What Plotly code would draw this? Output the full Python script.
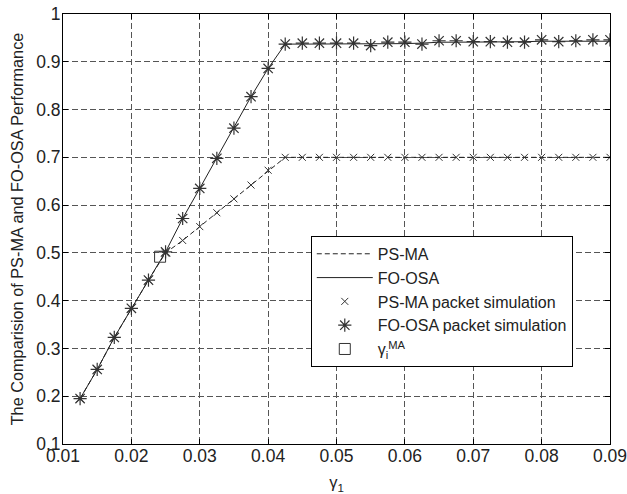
import plotly.graph_objects as go

gamma1 = [0.0125, 0.015, 0.0175, 0.02, 0.0225, 0.025, 0.0275, 0.03, 0.0325, 0.035,
          0.0375, 0.04, 0.0425, 0.045, 0.0475, 0.05, 0.0525, 0.055, 0.0575, 0.06,
          0.0625, 0.065, 0.0675, 0.07, 0.0725, 0.075, 0.0775, 0.08, 0.0825, 0.085,
          0.0875, 0.09]

ps_ma = [0.195, 0.256, 0.323, 0.384, 0.443, 0.500, 0.526, 0.555, 0.584, 0.613,
         0.642, 0.673, 0.700, 0.700, 0.700, 0.700, 0.700, 0.700, 0.700, 0.700,
         0.700, 0.700, 0.700, 0.700, 0.700, 0.700, 0.700, 0.700, 0.700, 0.700,
         0.700, 0.700]

fo_osa = [0.195, 0.256, 0.323, 0.384, 0.443, 0.502, 0.572, 0.635, 0.698, 0.761,
          0.827, 0.886, 0.937, 0.937, 0.937, 0.937, 0.937, 0.937, 0.938, 0.938,
          0.939, 0.941, 0.941, 0.941, 0.941, 0.941, 0.942, 0.943, 0.943, 0.943,
          0.943, 0.943]

ps_ma_sim = [0.195, 0.256, 0.323, 0.384, 0.443, 0.500, 0.526, 0.555, 0.584, 0.613,
             0.642, 0.673, 0.700, 0.700, 0.700, 0.700, 0.700, 0.700, 0.700, 0.700,
             0.700, 0.700, 0.700, 0.700, 0.700, 0.700, 0.700, 0.700, 0.700, 0.700,
             0.700, 0.700]

fo_osa_sim = [0.195, 0.256, 0.323, 0.384, 0.443, 0.502, 0.572, 0.635, 0.698, 0.761,
              0.827, 0.886, 0.937, 0.939, 0.939, 0.939, 0.939, 0.934, 0.941, 0.941,
              0.937, 0.944, 0.944, 0.942, 0.942, 0.941, 0.941, 0.946, 0.942, 0.944,
              0.946, 0.946]

gamma_i_x = [0.0242]
gamma_i_y = [0.492]

x_ticks = [0.01, 0.02, 0.03, 0.04, 0.05, 0.06, 0.07, 0.08, 0.09]
y_ticks = [0.1, 0.2, 0.3, 0.4, 0.5, 0.6, 0.7, 0.8, 0.9, 1]

FONT = "Liberation Sans, Arial, sans-serif"
MK = "#333333"

fig = go.Figure()
fig.add_trace(go.Scatter(x=gamma1, y=ps_ma, mode="lines", name="PS-MA",
                         line=dict(color="#222222", width=1, dash="5px,3px")))
fig.add_trace(go.Scatter(x=gamma1, y=fo_osa, mode="lines", name="FO-OSA",
                         line=dict(color="#222222", width=1)))
fig.add_trace(go.Scatter(x=gamma1, y=ps_ma_sim, mode="markers", name="PS-MA packet simulation",
                         marker=dict(symbol="x-thin-open", size=7, color=MK,
                                     line=dict(color=MK, width=1))))
fig.add_trace(go.Scatter(x=gamma1, y=fo_osa_sim, mode="markers", name="FO-OSA packet simulation",
                         marker=dict(symbol="asterisk-open", size=11, color=MK,
                                     line=dict(color=MK, width=1.2))))
fig.add_trace(go.Scatter(x=gamma_i_x, y=gamma_i_y, mode="markers",
                         name="γ<sub>i</sub><sup>MA</sup>",
                         marker=dict(symbol="square-open", size=11, color=MK,
                                     line=dict(color=MK, width=1))))

axis_common = dict(
    showline=True, linecolor="black", linewidth=1, mirror="allticks",
    ticks="inside", ticklen=5, tickcolor="black",
    showgrid=True, gridcolor="#555555", gridwidth=1, griddash="6px,3px",
    zeroline=False, tickfont=dict(family=FONT, size=17.5, color="#222222"),
    ticklabeloverflow="allow", automargin=False,
)

fig.update_xaxes(range=[0.01, 0.09], tickvals=x_ticks,
                 ticktext=[f"{v:g}" for v in x_ticks],
                 ticklabelstandoff=-4,
                 title=dict(text="γ<sub>1</sub>", font=dict(family=FONT, size=16.5, color="#222222"),
                            standoff=11),
                 **axis_common)
fig.update_yaxes(range=[0.1, 1.0], tickvals=y_ticks,
                 ticktext=[f"{v:g}" for v in y_ticks],
                 ticklabelstandoff=-2,
                 title=dict(text="The Comparision of PS-MA and FO-OSA Performance",
                            font=dict(family=FONT, size=16.3, color="#222222"), standoff=8),
                 **axis_common)

fig.update_layout(
    width=627, height=494,
    margin=dict(l=63, r=17, t=14, b=50),
    paper_bgcolor="white", plot_bgcolor="white",
    font=dict(family=FONT, size=16, color="#222222"),
    showlegend=True,
    legend=dict(x=0.453, y=0.484, xanchor="left", yanchor="top",
                bgcolor="white", bordercolor="black", borderwidth=1,
                font=dict(family=FONT, size=16, color="#222222"),
                itemwidth=56, tracegroupgap=0),
)

fig.write_html("out.html", config={"displayModeBar": False},
               post_script="document.body.style.margin='0';")
